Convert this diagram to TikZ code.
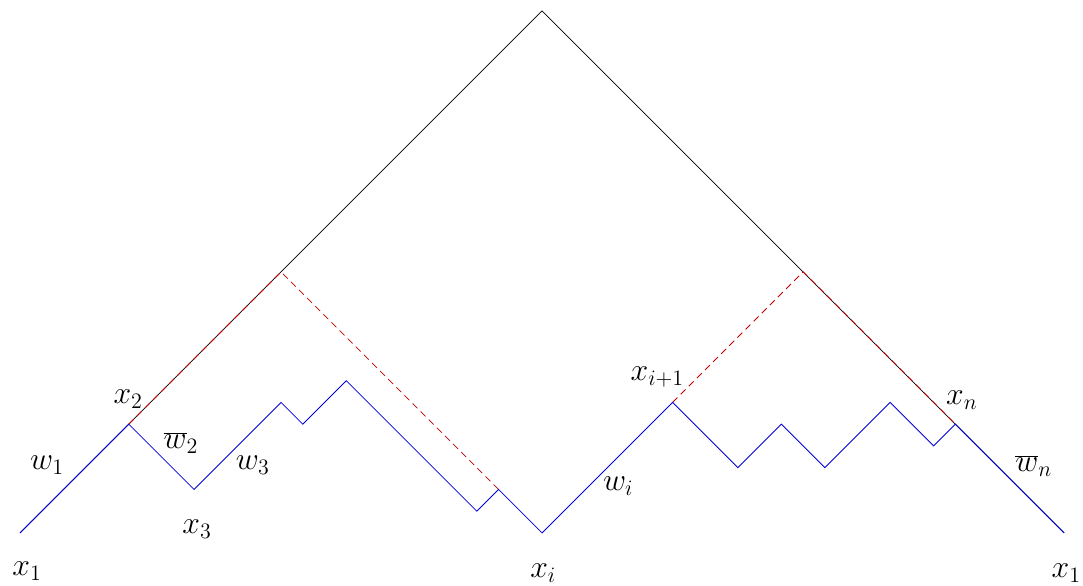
\documentclass[tikz,border=0pt]{standalone}
\begin{document}
\begin{tikzpicture}[x=0.5cm,y=0.5cm,
  frame/.style={black,line width=0.5pt},
  walk/.style={blue!85!black,line width=0.55pt,line join=miter},
  redd/.style={red!75!black,line width=0.55pt,dash pattern=on 4.5pt off 3pt},
  lbl/.style={font=\huge,inner sep=0pt}]
\useasboundingbox (-0.92,-2.44) rectangle (48.87,24.5);
% coordinates
\coordinate (A) at (0,0);
\coordinate (T) at (24,24);
\coordinate (B) at (48,0);
\coordinate (p1) at (5,5);
\coordinate (p2) at (8,2);
\coordinate (p3) at (12,6);
\coordinate (p4) at (13,5);
\coordinate (p5) at (15,7);
\coordinate (p6) at (21,1);
\coordinate (p7) at (22,2);
\coordinate (p8) at (24,0);
\coordinate (p9) at (30,6);
\coordinate (p10) at (33,3);
\coordinate (p11) at (35,5);
\coordinate (p12) at (37,3);
\coordinate (p13) at (40,6);
\coordinate (p14) at (42,4);
\coordinate (p15) at (43,5);
\coordinate (L) at (12,12);
\coordinate (R) at (36,12);
% frame
\draw[frame] (A) -- (T) -- (B);
% red
\draw[redd] (p1) -- (L) -- (p7);
\draw[redd] (p9) -- (R) -- (p15);
% walk
\draw[walk] (A) -- (p1) -- (p2) -- (p3) -- (p4) -- (p5) -- (p6) -- (p7) -- (p8) -- (p9) -- (p10) -- (p11) -- (p12) -- (p13) -- (p14) -- (p15) -- (B);
% labels
\node[lbl] (lx1) at (0.32,-1.75) {$x_1$};
\node[lbl] (lx2) at (4.97,6.16) {$x_2$};
\node[lbl] (lw1) at (1.24,3.13) {$w_1$};
\node[lbl] (lw2) at (7.4,4.14) {$\overline{w}_2$};
\node[lbl] (lw3) at (10.7,3.13) {$w_3$};
\node[lbl] (lx3) at (8.14,0.18) {$x_3$};
\node[lbl] (lxi) at (24.05,-1.84) {$x_i$};
\node[lbl] (lwi) at (27.5,2.16) {$w_i$};
\node[lbl] (lxi1) at (29.3,7.17) {$x_{i+1}$};
\node[lbl] (lxn) at (43.3,6.1) {$x_n$};
\node[lbl] (lwn) at (46.6,3.08) {$\overline{w}_n$};
\node[lbl] (lx1r) at (48.1,-1.84) {$x_1$};
\end{tikzpicture}
\end{document}
